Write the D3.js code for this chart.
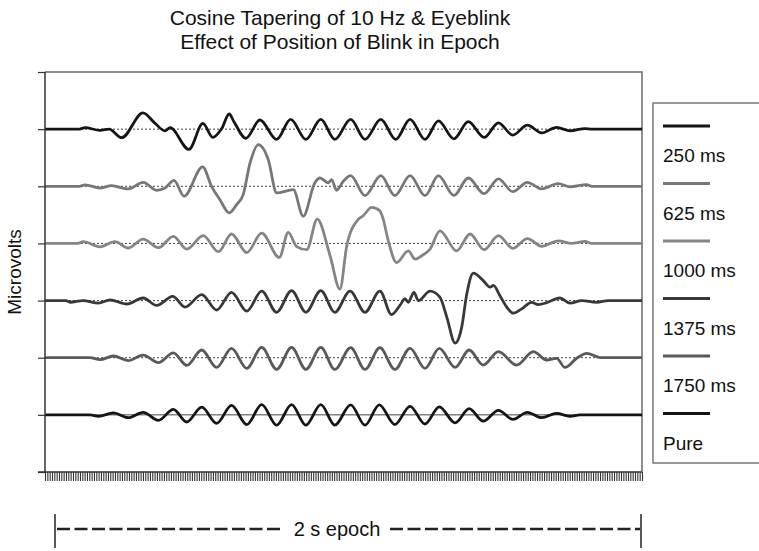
<!DOCTYPE html>
<html lang="en">
<head>
    <meta charset="UTF-8">
    <script src="https://d3js.org/d3.v7.min.js"></script>
    <title>Cosine Tapering of 10 Hz & Eyeblink</title>
    <style>
        body { margin: 0; background: #fff; }
        svg { display: block; font-family: "Liberation Sans", Arial, sans-serif; }
    </style>
</head>
<body>
    <svg width="759" height="551"></svg>
    <script>
        // series, top to bottom: [time ms, microvolts]
        const seriesNames = ['250 ms', '625 ms', '1000 ms', '1375 ms', '1750 ms', 'Pure'];
        const offsets = [120, 100, 80, 60, 40, 20];

        const blink250 = [[0,0],[115,0],[134,0.5],[184,-0.4],[215,0],[257,-3],[328,5.7],[368,2.1],[402,-0.6],[419,0.5],
            [482,-7.1],[529,2],[562,-2.9],[592,0.2],[617,5.3],[633,2.6],[673,-3.2],[720,3.2],[776,-3.6],[823,3.4],
            [874,-3.6],[924,3.4],[971,-3.6],[1024,3.4],[1072,-3.6],[1125,3.4],[1175,-3.6],[1223,3.4],[1273,-3.6],
            [1318,2.9],[1370,-3.4],[1418,2.6],[1471,-2.9],[1519,2.2],[1567,-2.1],[1616,1.4],[1664,-1.3],[1714,0.6],
            [1759,-0.6],[1809,0.2],[1832,0],[2000,0]];

        const blink625 = [[0,0],[115,0],[134,0.5],[184,-0.6],[223,0.2],[279,-0.9],[329,1.4],[374,-1.4],[402,-0.6],[432,2.1],
            [466,-3.5],[528,6.8],[558,0],[586,-4.7],[617,-9.3],[642,-6.4],[664,-2.9],[687,8.2],[715,14.6],[748,9.3],
            [776,-2.3],[832,-1.2],[865,-10.5],[904,1.2],[921,2.9],[949,1.2],[960,2.3],[977,-1.4],[999,1.7],[1024,3.7],
            [1072,-3.3],[1125,3.7],[1172,-3.3],[1223,3.7],[1273,-3.3],[1318,3.7],[1370,-3.2],[1418,2.9],[1471,-2.6],
            [1519,2.6],[1567,-1.9],[1616,1.4],[1664,-0.9],[1719,0.9],[1759,-0.2],[1815,0.6],[1832,0],[2000,0]];

        const blink1000 = [[0,0],[110,0],[128,0.6],[184,-1.2],[234,0.6],[279,-1.6],[329,1.5],[380,-1.5],[430,2.5],[475,-2],
            [530,2.7],[581,-2.9],[625,3.3],[676,-3.2],[726,3.6],[785,-4.9],[815,3.9],[843,-1.1],[877,-2.2],[912,8.5],
            [955,-4.3],[988,-16],[1011,-0.8],[1050,8.5],[1066,9.7],[1094,12.6],[1122,11.4],[1133,8.5],[1150,0.9],
            [1178,-6.7],[1217,-2.6],[1240,-5.5],[1262,-4.3],[1290,-2],[1323,4.4],[1379,-2.6],[1424,3.3],[1471,-2.2],
            [1519,2.7],[1567,-1.7],[1616,1.7],[1664,-1],[1720,0.9],[1764,0],[1809,0.7],[1832,0],[2000,0]];

        const blink1375 = [[0,0],[70,0],[84,-0.6],[127,0],[179,-0.9],[218,0.2],[274,-1.2],[329,0.9],[374,-1.7],[428,1.5],
            [469,-2.3],[525,2.1],[575,-3.3],[625,2.9],[676,-3.7],[726,3.3],[776,-4.1],[826,3.5],[874,-4.1],[924,3.5],
            [971,-4.1],[1022,3.3],[1072,-4.1],[1122,3.3],[1161,-4.9],[1189,-1.7],[1206,0.6],[1217,-0.6],[1236,2.9],
            [1251,0],[1290,3.3],[1323,1.2],[1346,-5.8],[1374,-14.9],[1396,-9.3],[1413,2.3],[1435,9.6],[1468,7],
            [1491,4.7],[1502,5.3],[1524,1.7],[1547,-2.3],[1569,-4.4],[1597,-2.9],[1630,-0.6],[1653,-1.4],[1681,-0.7],
            [1725,0.9],[1759,-0.9],[1798,0],[1848,-0.6],[1887,0],[2000,0]];

        const blink1750 = [[0,0],[151,0],[184,-0.7],[229,0.6],[279,-1],[329,0.9],[380,-1.7],[430,1.7],[475,-2.7],[525,2.7],
            [575,-3.4],[625,3.3],[676,-3.7],[726,3.6],[776,-4.1],[826,3.6],[874,-4.1],[924,3.6],[971,-4.1],[1024,3.5],
            [1072,-4.1],[1122,3.5],[1172,-4.1],[1223,3.3],[1273,-3.7],[1321,3.3],[1374,-3.4],[1421,2.7],[1468,-2.6],
            [1519,2.1],[1580,-2.6],[1636,2.1],[1681,-0.8],[1714,-0.2],[1742,-3.4],[1781,-0.2],[1815,1.5],[1848,0.4],
            [1860,0],[2000,0]];

        const pure = [[0,0],[151,0],[179,-0.5],[229,0.7],[279,-1],[329,0.9],[380,-1.9],[430,1.9],[475,-2.5],[525,2.7],
            [575,-3],[625,3.3],[676,-3.4],[726,3.6],[776,-3.6],[826,3.6],[874,-3.6],[924,3.6],[971,-3.6],[1024,3.5],
            [1072,-3.6],[1120,3.5],[1172,-3.4],[1223,3],[1273,-3.2],[1321,2.8],[1374,-2.8],[1421,2.2],[1468,-2.2],
            [1519,1.6],[1567,-1.6],[1616,0.9],[1664,-1],[1714,0.5],[1759,-0.5],[1792,0],[2000,0]];

        const seriesData = [blink250, blink625, blink1000, blink1375, blink1750, pure];
        const yTicks = [0, 20, 40, 60, 80, 100, 120, 140];
        const colors = ['#151515', '#777777', '#858585', '#383838', '#595959', '#151515'];

        const plotLeft = 45, plotRight = 642, plotTop = 72, plotBottom = 472;
        const svg = d3.select('svg');

        const x = d3.scaleLinear().domain([0, 2000]).range([plotLeft, plotRight]);
        const y = d3.scaleLinear().domain([0, 140]).range([plotBottom, plotTop]);

        // title
        svg.append('text').attr('x', 340).attr('y', 25).attr('text-anchor', 'middle')
            .attr('font-size', 21).attr('fill', '#111').text('Cosine Tapering of 10 Hz & Eyeblink');
        svg.append('text').attr('x', 340).attr('y', 49).attr('text-anchor', 'middle')
            .attr('font-size', 21).attr('fill', '#111').text('Effect of Position of Blink in Epoch');

        // frame (top and right)
        svg.append('path')
            .attr('d', `M${plotLeft},${plotTop}H${plotRight}V${plotBottom}`)
            .attr('fill', 'none').attr('stroke', '#6a6a6a').attr('stroke-width', 1.5);

        // baselines
        svg.append('g').selectAll('line').data(offsets).join('line')
            .attr('x1', plotLeft).attr('x2', plotRight)
            .attr('y1', d => y(d)).attr('y2', d => y(d))
            .attr('stroke', '#444').attr('stroke-width', 1)
            .attr('stroke-dasharray', (d, i) => i === offsets.length - 1 ? null : '2,2');

        // waveforms
        const line = d3.line()
            .x(d => x(d[0]))
            .curve(d3.curveMonotoneX);

        seriesData.forEach((s, i) => {
            svg.append('path')
                .datum(s)
                .attr('fill', 'none')
                .attr('stroke', colors[i])
                .attr('stroke-width', 2.8)
                .attr('stroke-linejoin', 'round')
                .attr('d', line.y(d => y(offsets[i] + d[1])));
        });

        // axes
        const yAxis = d3.axisLeft(y).tickValues(yTicks).tickSize(7).tickFormat('');
        const gy = svg.append('g').attr('transform', `translate(${plotLeft},0)`).call(yAxis);
        gy.select('.domain').attr('stroke', '#333').attr('stroke-width', 1.5).attr('d', `M0,${plotTop}V${plotBottom}`);
        gy.selectAll('.tick line').attr('stroke', '#333').attr('stroke-width', 1.2);

        const xAxis = d3.axisBottom(x).tickValues(d3.range(0, 2000.1, 2000 / 256)).tickSize(9).tickFormat('');
        const gx = svg.append('g').attr('transform', `translate(0,${plotBottom})`).call(xAxis);
        gx.select('.domain').attr('stroke', '#333').attr('stroke-width', 1.5).attr('d', `M${plotLeft - 7},0H${plotRight}`);
        gx.selectAll('.tick line').attr('stroke', '#333').attr('stroke-width', 1.1);

        // y label
        svg.append('text')
            .attr('transform', 'translate(21,272) rotate(-90)')
            .attr('text-anchor', 'middle').attr('font-size', 19).attr('fill', '#111')
            .text('Microvolts');

        // legend
        const lg = svg.append('g');
        lg.append('rect').attr('x', 653).attr('y', 103).attr('width', 120).attr('height', 360)
            .attr('fill', '#fff').attr('stroke', '#666').attr('stroke-width', 1.3);
        seriesNames.forEach((name, i) => {
            const yy = 126 + i * 57.5;
            lg.append('line').attr('x1', 663).attr('x2', 710).attr('y1', yy).attr('y2', yy)
                .attr('stroke', colors[i]).attr('stroke-width', 3);
            lg.append('text').attr('x', 663).attr('y', yy + 36).attr('font-size', 19)
                .attr('fill', '#111').text(name);
        });

        // epoch bracket
        const ey = 529;
        const eg = svg.append('g').attr('stroke', '#222');
        eg.append('line').attr('x1', 55).attr('x2', 55).attr('y1', 514).attr('y2', 548).attr('stroke-width', 1.5);
        eg.append('line').attr('x1', 641).attr('x2', 641).attr('y1', 514).attr('y2', 548).attr('stroke-width', 1.5);
        eg.append('line').attr('x1', 57).attr('x2', 282).attr('y1', ey).attr('y2', ey)
            .attr('stroke-width', 2.6).attr('stroke-dasharray', '13,4.5');
        eg.append('line').attr('x1', 390).attr('x2', 640).attr('y1', ey).attr('y2', ey)
            .attr('stroke-width', 2.6).attr('stroke-dasharray', '13,4.5');
        svg.append('text').attr('x', 337).attr('y', ey + 7).attr('text-anchor', 'middle')
            .attr('font-size', 20).attr('fill', '#111').text('2 s epoch');
    </script>
</body>
</html>
